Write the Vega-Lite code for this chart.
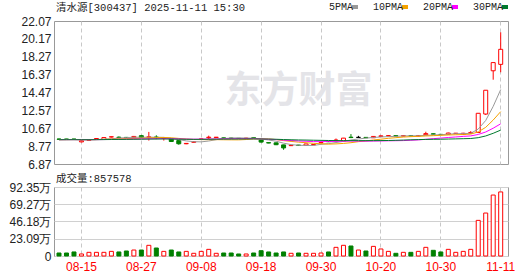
{
  "$schema": "https://vega.github.io/schema/vega-lite/v6.json",
  "background": "white",
  "padding": {"left": 3, "top": 2, "right": 5, "bottom": 0},
  "spacing": 2,
  "config": {
    "view": {"stroke": "#999999", "strokeWidth": 1},
    "axis": {"ticks": false, "domain": false, "labelFont": "Liberation Sans", "labelFontSize": 12, "labelColor": "#222222", "gridColor": "#d0d0d0", "gridWidth": 1, "labelOverlap": false},
    "axisY": {"labelPadding": 3, "minExtent": 50, "maxExtent": 50}
  },
  "data": {"values": [
    {"d":"2025-08-12","o":9.52,"h":9.58,"l":9.45,"c":9.50,"v":40000,"ma5":9.46,"ma10":9.455,"ma20":9.453,"ma30":9.452},
    {"d":"2025-08-13","o":9.52,"h":9.54,"l":9.46,"c":9.50,"v":40000,"ma5":9.47,"ma10":9.46,"ma20":9.455,"ma30":9.453},
    {"d":"2025-08-14","o":9.52,"h":9.55,"l":9.47,"c":9.50,"v":54000,"ma5":9.48,"ma10":9.465,"ma20":9.458,"ma30":9.455},
    {"d":"2025-08-15","o":9.22,"h":9.36,"l":9.18,"c":9.33,"v":27000,"ma5":9.456,"ma10":9.453,"ma20":9.452,"ma30":9.451},
    {"d":"2025-08-18","o":9.40,"h":9.46,"l":9.38,"c":9.44,"v":49000,"ma5":9.454,"ma10":9.452,"ma20":9.451,"ma30":9.451},
    {"d":"2025-08-19","o":9.50,"h":9.60,"l":9.48,"c":9.58,"v":49000,"ma5":9.47,"ma10":9.465,"ma20":9.458,"ma30":9.455},
    {"d":"2025-08-20","o":9.48,"h":9.70,"l":9.46,"c":9.68,"v":49000,"ma5":9.506,"ma10":9.488,"ma20":9.469,"ma30":9.463},
    {"d":"2025-08-21","o":9.74,"h":9.78,"l":9.70,"c":9.76,"v":62000,"ma5":9.558,"ma10":9.519,"ma20":9.485,"ma30":9.473},
    {"d":"2025-08-22","o":9.72,"h":9.80,"l":9.62,"c":9.68,"v":54000,"ma5":9.628,"ma10":9.542,"ma20":9.496,"ma30":9.481},
    {"d":"2025-08-25","o":9.70,"h":9.74,"l":9.64,"c":9.66,"v":67000,"ma5":9.672,"ma10":9.563,"ma20":9.507,"ma30":9.488},
    {"d":"2025-08-26","o":9.66,"h":9.85,"l":9.64,"c":9.80,"v":80000,"ma5":9.716,"ma10":9.593,"ma20":9.524,"ma30":9.499},
    {"d":"2025-08-27","o":9.88,"h":9.92,"l":9.64,"c":9.68,"v":80000,"ma5":9.716,"ma10":9.611,"ma20":9.536,"ma30":9.507},
    {"d":"2025-08-28","o":9.70,"h":10.28,"l":9.36,"c":9.76,"v":143000,"ma5":9.716,"ma10":9.637,"ma20":9.551,"ma30":9.517},
    {"d":"2025-08-29","o":9.74,"h":9.92,"l":9.50,"c":9.66,"v":107000,"ma5":9.712,"ma10":9.670,"ma20":9.562,"ma30":9.524},
    {"d":"2025-09-01","o":9.58,"h":9.72,"l":9.36,"c":9.62,"v":62000,"ma5":9.704,"ma10":9.688,"ma20":9.570,"ma30":9.530},
    {"d":"2025-09-02","o":9.53,"h":9.55,"l":9.22,"c":9.26,"v":80000,"ma5":9.596,"ma10":9.656,"ma20":9.561,"ma30":9.524},
    {"d":"2025-09-03","o":9.36,"h":9.38,"l":8.92,"c":9.02,"v":54000,"ma5":9.464,"ma10":9.590,"ma20":9.539,"ma30":9.509},
    {"d":"2025-09-04","o":9.02,"h":9.08,"l":8.98,"c":9.06,"v":62000,"ma5":9.324,"ma10":9.520,"ma20":9.520,"ma30":9.496},
    {"d":"2025-09-05","o":9.18,"h":9.26,"l":9.14,"c":9.24,"v":36000,"ma5":9.24,"ma10":9.476,"ma20":9.509,"ma30":9.489},
    {"d":"2025-09-08","o":9.50,"h":9.56,"l":9.46,"c":9.53,"v":62000,"ma5":9.222,"ma10":9.463,"ma20":9.513,"ma30":9.492},
    {"d":"2025-09-09","o":9.66,"h":9.88,"l":9.52,"c":9.72,"v":89000,"ma5":9.314,"ma10":9.455,"ma20":9.524,"ma30":9.501},
    {"d":"2025-09-10","o":9.68,"h":9.74,"l":9.64,"c":9.72,"v":36000,"ma5":9.454,"ma10":9.459,"ma20":9.535,"ma30":9.510},
    {"d":"2025-09-11","o":9.64,"h":9.66,"l":9.58,"c":9.62,"v":40000,"ma5":9.566,"ma10":9.445,"ma20":9.541,"ma30":9.516},
    {"d":"2025-09-12","o":9.62,"h":9.66,"l":9.56,"c":9.60,"v":40000,"ma5":9.638,"ma10":9.439,"ma20":9.555,"ma30":9.521},
    {"d":"2025-09-15","o":9.60,"h":9.64,"l":9.56,"c":9.58,"v":27000,"ma5":9.648,"ma10":9.435,"ma20":9.562,"ma30":9.525},
    {"d":"2025-09-16","o":9.58,"h":9.66,"l":9.56,"c":9.62,"v":27000,"ma5":9.628,"ma10":9.471,"ma20":9.564,"ma30":9.531},
    {"d":"2025-09-17","o":9.66,"h":9.68,"l":9.58,"c":9.62,"v":40000,"ma5":9.608,"ma10":9.531,"ma20":9.561,"ma30":9.536},
    {"d":"2025-09-18","o":9.42,"h":9.44,"l":9.16,"c":9.20,"v":71000,"ma5":9.524,"ma10":9.545,"ma20":9.533,"ma30":9.528},
    {"d":"2025-09-19","o":9.14,"h":9.16,"l":9.08,"c":9.10,"v":54000,"ma5":9.424,"ma10":9.531,"ma20":9.504,"ma30":9.516},
    {"d":"2025-09-22","o":9.12,"h":9.14,"l":8.88,"c":8.92,"v":40000,"ma5":9.292,"ma10":9.470,"ma20":9.467,"ma30":9.499},
    {"d":"2025-09-23","o":8.90,"h":8.92,"l":8.38,"c":8.58,"v":54000,"ma5":9.084,"ma10":9.356,"ma20":9.406,"ma30":9.468},
    {"d":"2025-09-24","o":8.82,"h":8.88,"l":8.78,"c":8.86,"v":36000,"ma5":8.932,"ma10":9.270,"ma20":9.365,"ma30":9.447},
    {"d":"2025-09-25","o":8.88,"h":8.90,"l":8.82,"c":8.84,"v":40000,"ma5":8.86,"ma10":9.192,"ma20":9.319,"ma30":9.425},
    {"d":"2025-09-26","o":8.84,"h":9.02,"l":8.82,"c":9.00,"v":36000,"ma5":8.84,"ma10":9.132,"ma20":9.286,"ma30":9.414},
    {"d":"2025-09-29","o":8.90,"h":8.96,"l":8.88,"c":8.94,"v":36000,"ma5":8.844,"ma10":9.068,"ma20":9.252,"ma30":9.397},
    {"d":"2025-09-30","o":9.12,"h":9.18,"l":9.10,"c":9.16,"v":40000,"ma5":8.96,"ma10":9.022,"ma20":9.247,"ma30":9.383},
    {"d":"2025-10-09","o":9.28,"h":9.30,"l":9.20,"c":9.24,"v":54000,"ma5":9.036,"ma10":8.984,"ma20":9.258,"ma30":9.368},
    {"d":"2025-10-10","o":9.34,"h":9.58,"l":9.28,"c":9.42,"v":116000,"ma5":9.152,"ma10":9.006,"ma20":9.276,"ma30":9.357},
    {"d":"2025-10-13","o":9.30,"h":9.64,"l":9.28,"c":9.62,"v":143000,"ma5":9.276,"ma10":9.058,"ma20":9.295,"ma30":9.355},
    {"d":"2025-10-14","o":9.72,"h":10.05,"l":9.62,"c":9.68,"v":134000,"ma5":9.424,"ma10":9.134,"ma20":9.302,"ma30":9.356},
    {"d":"2025-10-15","o":9.70,"h":9.86,"l":9.64,"c":9.70,"v":80000,"ma5":9.532,"ma10":9.246,"ma20":9.301,"ma30":9.352},
    {"d":"2025-10-16","o":9.70,"h":9.72,"l":9.64,"c":9.66,"v":67000,"ma5":9.616,"ma10":9.326,"ma20":9.298,"ma30":9.352},
    {"d":"2025-10-17","o":9.66,"h":9.82,"l":9.64,"c":9.80,"v":129000,"ma5":9.692,"ma10":9.422,"ma20":9.307,"ma30":9.353},
    {"d":"2025-10-20","o":9.80,"h":9.90,"l":9.76,"c":9.86,"v":94000,"ma5":9.74,"ma10":9.508,"ma20":9.320,"ma30":9.360},
    {"d":"2025-10-21","o":9.86,"h":9.92,"l":9.84,"c":9.88,"v":62000,"ma5":9.78,"ma10":9.602,"ma20":9.335,"ma30":9.368},
    {"d":"2025-10-22","o":9.88,"h":9.90,"l":9.82,"c":9.84,"v":36000,"ma5":9.808,"ma10":9.670,"ma20":9.346,"ma30":9.388},
    {"d":"2025-10-23","o":9.84,"h":9.90,"l":9.82,"c":9.88,"v":49000,"ma5":9.852,"ma10":9.734,"ma20":9.359,"ma30":9.416},
    {"d":"2025-10-24","o":9.88,"h":9.90,"l":9.84,"c":9.86,"v":49000,"ma5":9.864,"ma10":9.778,"ma20":9.392,"ma30":9.443},
    {"d":"2025-10-27","o":9.84,"h":9.92,"l":9.80,"c":9.90,"v":62000,"ma5":9.872,"ma10":9.806,"ma20":9.432,"ma30":9.465},
    {"d":"2025-10-28","o":9.98,"h":10.30,"l":9.94,"c":10.10,"v":116000,"ma5":9.916,"ma10":9.848,"ma20":9.491,"ma30":9.484},
    {"d":"2025-10-29","o":10.08,"h":10.10,"l":10.02,"c":10.04,"v":76000,"ma5":9.956,"ma10":9.882,"ma20":9.564,"ma30":9.495},
    {"d":"2025-10-30","o":10.02,"h":10.04,"l":9.98,"c":10.00,"v":54000,"ma5":9.98,"ma10":9.916,"ma20":9.621,"ma30":9.504},
    {"d":"2025-10-31","o":10.02,"h":10.20,"l":10.00,"c":10.16,"v":89000,"ma5":10.04,"ma10":9.952,"ma20":9.687,"ma30":9.522},
    {"d":"2025-11-03","o":10.12,"h":10.16,"l":10.08,"c":10.14,"v":49000,"ma5":10.088,"ma10":9.980,"ma20":9.744,"ma30":9.540},
    {"d":"2025-11-04","o":10.00,"h":10.18,"l":9.96,"c":10.14,"v":62000,"ma5":10.096,"ma10":10.006,"ma20":9.804,"ma30":9.559},
    {"d":"2025-11-05","o":10.14,"h":10.36,"l":10.12,"c":10.22,"v":89000,"ma5":10.132,"ma10":10.044,"ma20":9.857,"ma30":9.579},
    {"d":"2025-11-06","o":10.22,"h":12.26,"l":10.16,"c":12.26,"v":477000,"ma5":10.584,"ma10":10.282,"ma20":10.008,"ma30":9.667},
    {"d":"2025-11-07","o":12.18,"h":14.71,"l":12.08,"c":14.71,"v":575000,"ma5":11.494,"ma10":10.767,"ma20":10.273,"ma30":9.850},
    {"d":"2025-11-10","o":16.78,"h":17.65,"l":15.83,"c":17.65,"v":816000,"ma5":12.996,"ma10":11.542,"ma20":10.674,"ma30":10.135},
    {"d":"2025-11-11","o":17.46,"h":20.87,"l":16.62,"c":19.06,"v":857578,"ma5":14.78,"ma10":12.438,"ma20":11.143,"ma30":10.473}
  ]},
  "vconcat": [
    {
      "width": 454,
      "height": 143,
      "title": {"text": "清水源[300437] 2025-11-11 15:30", "anchor": "start", "frame": "group", "font": "Liberation Mono, Noto Sans CJK SC", "fontSize": 10.5, "fontWeight": "normal", "color": "#222222", "offset": 2, "dx": 2},
      "layer": [
        {
          "data": {"values": [{}]},
          "mark": {"type": "text", "font": "Noto Sans CJK SC", "fontSize": 37, "fontWeight": "bold", "fill": "#e4e4e8"},
          "encoding": {
            "x": {"datum": "2025-09-25", "type": "ordinal", "scale": {"type": "band", "domain": ["2025-08-12","2025-08-13","2025-08-14","2025-08-15","2025-08-18","2025-08-19","2025-08-20","2025-08-21","2025-08-22","2025-08-25","2025-08-26","2025-08-27","2025-08-28","2025-08-29","2025-09-01","2025-09-02","2025-09-03","2025-09-04","2025-09-05","2025-09-08","2025-09-09","2025-09-10","2025-09-11","2025-09-12","2025-09-15","2025-09-16","2025-09-17","2025-09-18","2025-09-19","2025-09-22","2025-09-23","2025-09-24","2025-09-25","2025-09-26","2025-09-29","2025-09-30","2025-10-09","2025-10-10","2025-10-13","2025-10-14","2025-10-15","2025-10-16","2025-10-17","2025-10-20","2025-10-21","2025-10-22","2025-10-23","2025-10-24","2025-10-27","2025-10-28","2025-10-29","2025-10-30","2025-10-31","2025-11-03","2025-11-04","2025-11-05","2025-11-06","2025-11-07","2025-11-10","2025-11-11"], "paddingInner": 0, "paddingOuter": 0.322, "align": 0.26}, "axis": {"values": ["2025-08-15","2025-08-27","2025-09-08","2025-09-18","2025-09-30","2025-10-20","2025-10-30","2025-11-11"], "labels": false, "grid": true, "gridDash": [4, 3], "gridColor": "#c8c8c8", "bandPosition": 0.5}, "title": null},
            "y": {"datum": 14.57, "type": "quantitative", "scale": {"domain": [6.87, 22.07], "nice": false, "zero": false}, "axis": {"values": [6.87, 8.77, 10.67, 12.57, 14.47, 16.37, 18.27, 20.17, 22.07], "format": ".2f", "labelOverlap": false}, "title": null},
            "text": {"value": "东方财富"}
          }
        },
        {
          "mark": {"type": "rule", "strokeWidth": 1},
          "encoding": {
            "x": {"field": "d", "type": "ordinal", "title": null},
            "y": {"field": "l", "type": "quantitative", "title": null, "axis": {"values": [6.87, 8.77, 10.67, 12.57, 14.47, 16.37, 18.27, 20.17, 22.07], "format": ".2f", "labelOverlap": false}},
            "y2": {"field": "h"},
            "color": {"condition": [{"test": "datum.c > datum.o", "value": "#ff0000"}, {"test": "datum.c == datum.o", "value": "#000000"}], "value": "#008000"}
          }
        },
        {
          "mark": {"type": "bar", "width": 4, "strokeWidth": 1},
          "encoding": {
            "x": {"field": "d", "type": "ordinal", "title": null},
            "y": {"field": "o", "type": "quantitative", "title": null, "axis": {"values": [6.87, 8.77, 10.67, 12.57, 14.47, 16.37, 18.27, 20.17, 22.07], "format": ".2f", "labelOverlap": false}},
            "y2": {"field": "c"},
            "fill": {"condition": [{"test": "datum.c > datum.o", "value": "#ffffff"}, {"test": "datum.c == datum.o", "value": "#000000"}], "value": "#008000"},
            "stroke": {"condition": [{"test": "datum.c > datum.o", "value": "#ff0000"}, {"test": "datum.c == datum.o", "value": "#000000"}], "value": "#008000"}
          }
        },
        {
          "transform": [{"fold": ["ma5", "ma10", "ma20", "ma30"], "as": ["ma", "mv"]}],
          "mark": {"type": "line", "strokeWidth": 1},
          "encoding": {
            "x": {"field": "d", "type": "ordinal", "title": null},
            "y": {"field": "mv", "type": "quantitative", "title": null, "axis": {"values": [6.87, 8.77, 10.67, 12.57, 14.47, 16.37, 18.27, 20.17, 22.07], "format": ".2f", "labelOverlap": false}},
            "color": {"field": "ma", "type": "nominal", "scale": {"domain": ["ma5", "ma10", "ma20", "ma30"], "range": ["#999999", "#f5a200", "#ff00ff", "#007a2e"]}, "legend": {"orient": "none", "legendX": 296, "legendY": -19, "direction": "horizontal", "title": null, "labelFont": "Liberation Mono", "labelFontSize": 10, "labelColor": "#222222", "labelExpr": "replace(datum.label, 'ma', '') + 'PMA'", "symbolType": "stroke", "symbolSize": 36, "symbolStrokeWidth": 4, "labelAlign": "right", "labelOffset": -7, "columnPadding": 6}}
          }
        }
      ]
    },
    {
      "width": 454,
      "height": 69,
      "title": {"text": "成交量:857578", "anchor": "start", "frame": "group", "font": "Liberation Mono, Noto Sans CJK SC", "fontSize": 10.5, "fontWeight": "normal", "color": "#222222", "offset": 0, "dx": 2, "dy": 3},
      "mark": {"type": "bar", "width": 4, "strokeWidth": 1},
      "encoding": {
        "x": {"field": "d", "type": "ordinal", "scale": {"type": "band", "paddingInner": 0, "paddingOuter": 0.322, "align": 0.26}, "axis": {"values": ["2025-08-15","2025-08-27","2025-09-08","2025-09-18","2025-09-30","2025-10-20","2025-10-30","2025-11-11"], "labelExpr": "slice(datum.value, 5)", "labelColor": "#ff0000", "labelAngle": 0, "labelPadding": 5, "grid": true, "gridDash": [4, 3], "gridColor": "#c8c8c8", "bandPosition": 0.5}, "title": null},
        "y": {"field": "v", "type": "quantitative", "scale": {"domain": [0, 923500], "nice": false}, "axis": {"values": [0, 230900, 461800, 692700, 923500], "labelExpr": "datum.value == 0 ? '0' : format(datum.value / 10000, '.2f') + '万'"}, "title": null},
        "fill": {"condition": {"test": "datum.c >= datum.o", "value": "#ffffff"}, "value": "#008000"},
        "stroke": {"condition": {"test": "datum.c >= datum.o", "value": "#ff0000"}, "value": "#008000"}
      }
    }
  ]
}
